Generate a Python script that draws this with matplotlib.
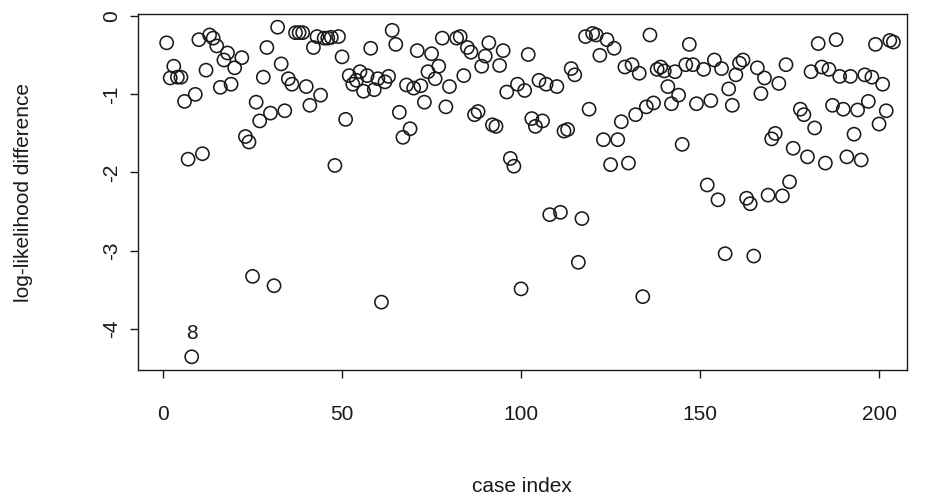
import matplotlib
matplotlib.use("Agg")
import matplotlib.pyplot as plt
import numpy as np

plt.rcParams['font.family'] = ['Liberation Sans', 'DejaVu Sans']
plt.rcParams['axes.unicode_minus'] = False

# case indices (a few hidden/overlapping cases are not visible)
case_index = [
    1, 2, 3, 4, 5, 6, 7, 8, 9, 10, 11, 12, 13, 14, 15, 16, 17, 18, 19, 20,
    22, 23, 24, 25, 26, 27, 28, 29, 30, 31, 32, 33, 34, 35, 36, 37, 38, 39, 40, 41,
    42, 43, 44, 45, 46, 47, 48, 49, 50, 51, 52, 53, 54, 55, 56, 57, 58, 59, 60, 61,
    62, 63, 64, 65, 66, 67, 68, 69, 70, 71, 72, 73, 74, 75, 76, 77, 78, 79, 80, 82,
    83, 84, 85, 86, 87, 88, 89, 90, 91, 92, 93, 94, 95, 96, 97, 98, 99, 100, 101, 102,
    103, 104, 105, 106, 107, 108, 110, 111, 112, 113, 114, 115, 116, 117, 118, 119, 120, 121, 122, 123,
    124, 125, 126, 127, 128, 129, 130, 131, 132, 133, 134, 135, 136, 137, 138, 139, 140, 141, 142, 143,
    144, 145, 146, 147, 148, 149, 151, 152, 153, 154, 155, 156, 157, 158, 159, 160, 161, 162, 163, 164,
    165, 166, 167, 168, 169, 170, 171, 172, 173, 174, 175, 176, 178, 179, 180, 181, 182, 183, 184, 185,
    186, 187, 188, 189, 190, 191, 192, 193, 194, 195, 196, 197, 198, 199, 200, 201, 202, 203, 204,
]

# log-likelihood difference per case
loglik_diff = [
    -0.34, -0.79, -0.64, -0.78, -0.78, -1.09, -1.83, -4.36, -1.00, -0.30,
    -1.76, -0.69, -0.24, -0.28, -0.38, -0.91, -0.56, -0.47, -0.87, -0.66,
    -0.53, -1.54, -1.61, -3.33, -1.10, -1.34, -0.78, -0.40, -1.24, -3.45,
    -0.14, -0.61, -1.21, -0.80, -0.87, -0.21, -0.21, -0.21, -0.90, -1.14,
    -0.40, -0.26, -1.01, -0.28, -0.28, -0.27, -1.91, -0.26, -0.52, -1.32,
    -0.76, -0.87, -0.82, -0.71, -0.96, -0.76, -0.41, -0.94, -0.80, -3.66,
    -0.84, -0.77, -0.18, -0.36, -1.23, -1.55, -0.88, -1.44, -0.92, -0.44,
    -0.89, -1.10, -0.71, -0.48, -0.80, -0.64, -0.28, -1.16, -0.90, -0.28,
    -0.26, -0.76, -0.40, -0.46, -1.26, -1.22, -0.64, -0.51, -0.34, -1.39,
    -1.41, -0.63, -0.44, -0.97, -1.82, -1.92, -0.87, -3.49, -0.95, -0.49,
    -1.31, -1.41, -0.82, -1.34, -0.87, -2.54, -0.90, -2.51, -1.47, -1.45,
    -0.67, -0.75, -3.15, -2.59, -0.26, -1.19, -0.22, -0.24, -0.50, -1.58,
    -0.30, -1.90, -0.41, -1.58, -1.35, -0.65, -1.88, -0.62, -1.26, -0.73,
    -3.59, -1.16, -0.24, -1.11, -0.68, -0.65, -0.70, -0.90, -1.12, -0.71,
    -1.01, -1.64, -0.62, -0.36, -0.62, -1.12, -0.68, -2.16, -1.08, -0.56,
    -2.35, -0.67, -3.04, -0.93, -1.14, -0.75, -0.60, -0.56, -2.33, -2.40,
    -3.07, -0.66, -0.99, -0.79, -2.29, -1.57, -1.50, -0.86, -2.30, -0.62,
    -2.12, -1.69, -1.19, -1.26, -1.80, -0.71, -1.43, -0.35, -0.65, -1.88,
    -0.68, -1.14, -0.30, -0.77, -1.19, -1.80, -0.77, -1.51, -1.20, -1.84,
    -0.75, -1.09, -0.78, -0.36, -1.38, -0.87, -1.21, -0.31, -0.33,
]

x_ticks = [0, 50, 100, 150, 200]
y_ticks = [0, -1, -2, -3, -4]
labelled_case = 8

W, H = 928, 500
fig = plt.figure(figsize=(W / 100, H / 100), dpi=100)
ax = fig.add_axes([138 / W, 1 - 370 / H, (907 - 138) / W, (370 - 14) / H])

ax.scatter(case_index, loglik_diff, s=9.5 ** 2, facecolors='none',
           edgecolors='#1a1a1a', linewidths=1.15, zorder=3)

y8 = loglik_diff[case_index.index(labelled_case)]
ax.annotate(str(labelled_case), (labelled_case, y8), xytext=(0, 10),
            textcoords='offset points', ha='center', va='bottom',
            fontsize=15, color='#1a1a1a')

ax.set_xlim(-7.0, 207.8)
ymin, ymax = min(loglik_diff), max(loglik_diff)
yr = (ymax - ymin) * 0.04
ax.set_ylim(ymin - yr, ymax + yr)

ax.set_xticks(x_ticks)
ax.set_xticklabels([str(v) for v in x_ticks])
ax.set_yticks(y_ticks)
ax.set_yticklabels([str(v) for v in y_ticks], rotation=90, va='center')
ax.tick_params(axis='both', direction='out', length=6, width=1,
               labelsize=15, colors='#1a1a1a')
ax.tick_params(axis='x', pad=19)
ax.tick_params(axis='y', pad=6)
for sp in ax.spines.values():
    sp.set_linewidth(1)
    sp.set_color('#1a1a1a')

fig.text(522 / W, 1 - 486 / H, 'case index', ha='center', va='center',
         fontsize=15, color='#1a1a1a')
fig.text(24 / W, 1 - 192 / H, 'log-likelihood difference', ha='center',
         va='center', rotation=90, fontsize=15, color='#1a1a1a')

fig.savefig('out.png', dpi=100)
